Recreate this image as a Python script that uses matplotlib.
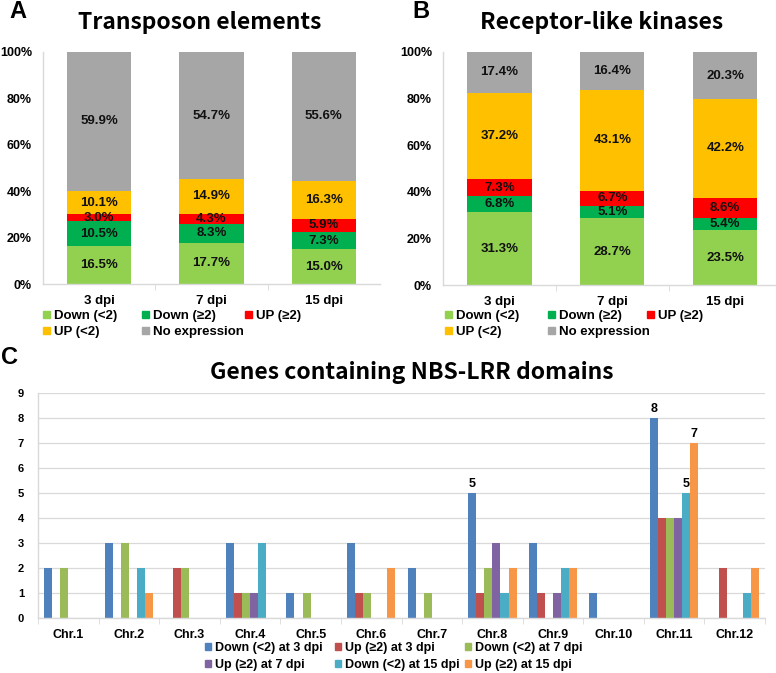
import matplotlib
matplotlib.use('Agg')
from matplotlib import pyplot as plt, rcParams
from matplotlib.patches import Patch
import numpy as np

rcParams.update({
    'font.family': ['Liberation Sans', 'DejaVu Sans'],
    'font.weight': 'bold',
    'font.size': 9,
    'axes.linewidth': 1.0,
})

W, H = 776, 673
TITLE_FONT = ['Noto Sans CJK KR', 'DejaVu Sans']

# ---- panels A / B : 100% stacked bars ----
days = ['3 dpi', '7 dpi', '15 dpi']
stack_labels = ['Down (<2)', 'Down (≥2)', 'UP (≥2)', 'UP (<2)', 'No expression']
stack_colors = ['#92D050', '#00B050', '#FF0000', '#FFC000', '#A6A6A6']

te_down_lt2 = [16.5, 17.7, 15.0]
te_down_ge2 = [10.5, 8.3, 7.3]
te_up_ge2 = [3.0, 4.3, 5.9]
te_up_lt2 = [10.1, 14.9, 16.3]
te_no_expr = [59.9, 54.7, 55.6]

rlk_down_lt2 = [31.3, 28.7, 23.5]
rlk_down_ge2 = [6.8, 5.1, 5.4]
rlk_up_ge2 = [7.3, 6.7, 8.6]
rlk_up_lt2 = [37.2, 43.1, 42.2]
rlk_no_expr = [17.4, 16.4, 20.3]

# ---- panel C : NBS-LRR genes per chromosome ----
chromosomes = ['Chr.1', 'Chr.2', 'Chr.3', 'Chr.4', 'Chr.5', 'Chr.6',
               'Chr.7', 'Chr.8', 'Chr.9', 'Chr.10', 'Chr.11', 'Chr.12']
nbs_down_3 = [2, 3, 0, 3, 1, 3, 2, 5, 3, 1, 8, 0]
nbs_up_3 = [0, 0, 2, 1, 0, 1, 0, 1, 1, 0, 4, 2]
nbs_down_7 = [2, 3, 2, 1, 1, 1, 1, 2, 0, 0, 4, 0]
nbs_up_7 = [0, 0, 0, 1, 0, 0, 0, 3, 1, 0, 4, 0]
nbs_down_15 = [0, 2, 0, 3, 0, 0, 0, 1, 2, 0, 5, 1]
nbs_up_15 = [0, 1, 0, 0, 0, 2, 0, 2, 2, 0, 7, 2]
nbs_labels = ['Down (<2) at 3 dpi', 'Up (≥2) at 3 dpi', 'Down (<2) at 7 dpi',
              'Up (≥2) at 7 dpi', 'Down (<2) at 15 dpi', 'Up (≥2) at 15 dpi']
nbs_colors = ['#4F81BD', '#C0504D', '#9BBB59', '#8064A2', '#4BACC6', '#F79646']
# (series, chromosome) pairs that carry a value label
nbs_marked = [(0, 7), (0, 10), (4, 10), (5, 10)]

fig = plt.figure(figsize=(W / 100, H / 100), dpi=100)


def fx(px):
    return px / W


def fy(py):
    return 1 - py / H


def legend_grid(handles, labels, xs, ys, fontsize=9):
    # Excel-like legend: fixed column slots, filled row by row
    for i, (h, lab) in enumerate(zip(handles, labels)):
        r, c = divmod(i, len(xs))
        fig.legend([h], [lab], loc='center left',
                   bbox_to_anchor=(fx(xs[c]), fy(ys[r])),
                   frameon=False, borderpad=0, borderaxespad=0,
                   handlelength=0.5, handleheight=0.5, handletextpad=0.3,
                   fontsize=fontsize)


def stacked_panel(rect, series, xmax, title, title_xy, letter, letter_xy, leg_x):
    ax = fig.add_axes(rect)
    data = np.array(series, dtype=float)
    frac = data / data.sum(axis=0)
    x = np.arange(len(days))
    bottom = np.zeros(len(days))
    for k in range(len(series)):
        bars = ax.bar(x, frac[k], 0.57, bottom=bottom, color=stack_colors[k],
                      label=stack_labels[k])
        ax.bar_label(bars, labels=[f'{v:.1f}%' for v in data[k]],
                     label_type='center', fontsize=9.5, fontweight='bold',
                     color='#111111')
        bottom += frac[k]
    ax.set_xlim(-0.5, xmax)
    ax.set_ylim(0, 1)
    ax.set_yticks(np.arange(0, 1.01, 0.2))
    ax.set_yticklabels([f'{int(round(v * 100))}%' for v in np.arange(0, 1.01, 0.2)])
    ax.set_xticks(x)
    ax.set_xticklabels(days)
    ax.set_xticks(x[:-1] + 0.5, minor=True)
    ax.tick_params(axis='y', length=0, pad=8, labelsize=9)
    ax.tick_params(axis='x', which='major', length=0, pad=8, labelsize=9.5)
    ax.tick_params(axis='x', which='minor', length=4, color='#D9D9D9')
    for s in ['top', 'right']:
        ax.spines[s].set_visible(False)
    ax.spines['left'].set_color('#D9D9D9')
    ax.spines['bottom'].set_color('#D9D9D9')
    fig.text(fx(title_xy[0]), fy(title_xy[1]), title, ha='center', va='center',
             fontsize=16.5, fontweight='bold', family=TITLE_FONT)
    fig.text(fx(letter_xy[0]), fy(letter_xy[1]), letter, ha='center',
             va='center', fontsize=17, fontweight='bold')
    handles = [Patch(color=c) for c in stack_colors]
    legend_grid(handles, stack_labels, leg_x, [316, 332], fontsize=9.5)
    return ax


stacked_panel([fx(43), fy(284), fx(380 - 43), (284 - 52) / H],
              [te_down_lt2, te_down_ge2, te_up_ge2, te_up_lt2, te_no_expr],
              2.5, 'Transposon elements', (200, 23), 'A', (18, 12),
              [43, 142, 245])
stacked_panel([fx(443), fy(285), fx(776 - 443), (285 - 52) / H],
              [rlk_down_lt2, rlk_down_ge2, rlk_up_ge2, rlk_up_lt2, rlk_no_expr],
              2.45, 'Receptor-like kinases', (602, 23), 'B', (421, 11),
              [445, 548, 647])

# ---- panel C ----
axc = fig.add_axes([fx(38), fy(618), fx(765 - 38), (618 - 393) / H])
nbs = [nbs_down_3, nbs_up_3, nbs_down_7, nbs_up_7, nbs_down_15, nbs_up_15]
xc = np.arange(len(chromosomes))
bw = 0.8 / len(nbs)
for k, vals in enumerate(nbs):
    bars = axc.bar(xc + (k - 2.5) * bw, vals, bw, color=nbs_colors[k],
                   label=nbs_labels[k])
    labs = [str(v) if (k, i) in nbs_marked else '' for i, v in enumerate(vals)]
    axc.bar_label(bars, labels=labs, padding=2, fontsize=9, fontweight='bold')
axc.set_xlim(-0.5, len(chromosomes) - 0.5)
axc.set_ylim(0, 9)
axc.set_yticks(range(0, 10))
axc.yaxis.grid(True, color='#D9D9D9', lw=0.9)
axc.set_axisbelow(True)
axc.set_xticks(xc)
axc.set_xticklabels(chromosomes)
axc.set_xticks(np.arange(-0.5, len(chromosomes)), minor=True)
axc.tick_params(axis='y', length=0, pad=10, labelsize=8)
axc.tick_params(axis='x', which='major', length=0, pad=8, labelsize=9)
axc.tick_params(axis='x', which='minor', length=4, color='#D9D9D9')
for s in ['top', 'right']:
    axc.spines[s].set_visible(False)
axc.spines['left'].set_color('#D9D9D9')
axc.spines['bottom'].set_color('#D9D9D9')
fig.text(fx(412), fy(372), 'Genes containing NBS-LRR domains', ha='center',
         va='center', fontsize=16.5, fontweight='bold', family=TITLE_FONT)
fig.text(fx(10), fy(357), 'C', ha='center', va='center', fontsize=17,
         fontweight='bold')
legend_grid([Patch(color=c) for c in nbs_colors], nbs_labels,
            [205, 335, 465], [648, 665], fontsize=9)

fig.savefig('out.png', dpi=100)
